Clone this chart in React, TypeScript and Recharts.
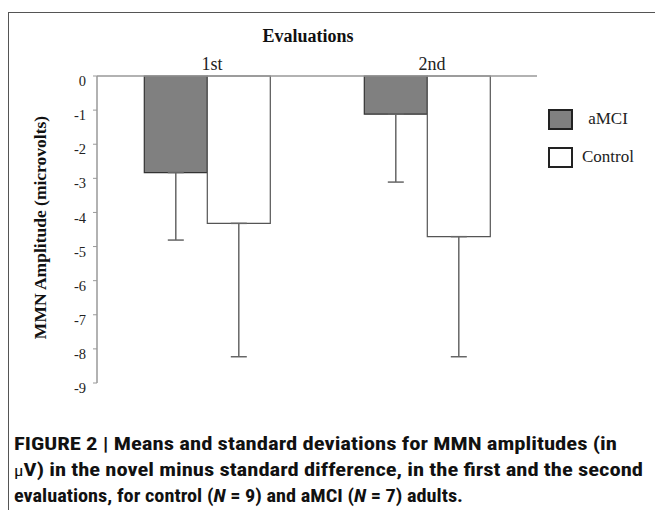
import React from 'react';
import { BarChart, Bar, XAxis, YAxis, ErrorBar, Legend } from 'recharts';

const evaluations = ['1st', '2nd'];
const amciMeans = [-2.83, -1.12];
const amciSD = [1.98, 1.99];
const controlMeans = [-4.32, -4.71];
const controlSD = [3.91, 3.52];
const yTicks = [0, -1, -2, -3, -4, -5, -6, -7, -8, -9];
const seriesNames = ['aMCI', 'Control'];
const seriesFills = ['#808080', '#ffffff'];

const data = evaluations.map((e, i) => ({
  evaluation: e,
  aMCI: amciMeans[i],
  aMCIErr: [amciSD[i], 0],
  Control: controlMeans[i],
  ControlErr: [controlSD[i], 0],
}));

const serif = '"Liberation Serif", "Times New Roman", "DejaVu Serif", serif';
const captionFont = '"Liberation Sans Narrow", "Roboto Condensed", "DejaVu Sans Condensed", "Liberation Sans", Arial, sans-serif';

const renderLegend = () => (
  <div style={{ fontFamily: serif, fontSize: 17, color: '#222' }}>
    {seriesNames.map((n, i) => (
      <div key={n} style={{ display: 'flex', alignItems: 'center', height: 38 }}>
        <div style={{ width: 21, height: 17, border: '2px solid #222', background: seriesFills[i] }} />
        <div style={{ width: 70, textAlign: 'center' }}>{n}</div>
      </div>
    ))}
  </div>
);

export default function App() {
  return (
    <div style={{ position: 'absolute', left: 0, top: 0, width: 655, height: 510, background: '#fff', overflow: 'hidden' }}>
      <div style={{ position: 'absolute', left: 8, top: 12, width: 660, height: 520, borderLeft: '1.5px solid #555', borderTop: '1.5px solid #555' }} />
      <div style={{ position: 'absolute', left: 0, top: 0 }}>
        <BarChart
          width={655}
          height={400}
          data={data}
          margin={{ top: 56, left: 57, right: 118, bottom: 17 }}
          barCategoryGap="21.5%"
          barGap={0}
        >
          <XAxis
            dataKey="evaluation"
            orientation="top"
            height={20}
            axisLine={{ stroke: '#999', strokeWidth: 1.5 }}
            tickLine={false}
            tickSize={6}
            tickMargin={0}
            tick={{ fontFamily: serif, fontSize: 18, fill: '#222', dx: 5 }}
            label={{
              content: ({ viewBox }: any) => (
                <text x={viewBox.x + viewBox.width / 2 - 9} y={viewBox.y - 14} textAnchor="middle"
                  fontFamily={serif} fontSize={18} fontWeight="bold" fill="#111">Evaluations</text>
              ),
            }}
          />
          <YAxis
            type="number"
            domain={[-9, 0]}
            ticks={yTicks}
            interval={0}
            width={40}
            axisLine={{ stroke: '#999', strokeWidth: 1.5 }}
            tickLine={{ stroke: '#999' }}
            tickSize={4}
            tickMargin={7}
            tick={{ fontFamily: serif, fontSize: 14.5, fill: '#222', dy: 5 }}
            label={{
              content: ({ viewBox }: any) => {
                const cx = viewBox.x - 17;
                const cy = viewBox.y + viewBox.height / 2 - 2;
                return (
                  <text x={cx} y={cy} textAnchor="middle" dominantBaseline="central"
                    transform={`rotate(-90, ${cx}, ${cy})`}
                    fontFamily={serif} fontSize={17.5} fontWeight="bold" fill="#111">MMN Amplitude (microvolts)</text>
                );
              },
            }}
          />
          <Legend
            layout="horizontal"
            verticalAlign="middle"
            align="center"
            content={renderLegend}
            wrapperStyle={{ position: 'absolute', left: 548, top: 100, width: 100 }}
          />
          <Bar dataKey="aMCI" fill="#808080" stroke="#333" strokeWidth={1.2} isAnimationActive={false}>
            <ErrorBar dataKey="aMCIErr" direction="y" width={8} stroke="#666" strokeWidth={1.5} />
          </Bar>
          <Bar dataKey="Control" fill="#ffffff" stroke="#555" strokeWidth={1.2} isAnimationActive={false}>
            <ErrorBar dataKey="ControlErr" direction="y" width={8} stroke="#666" strokeWidth={1.5} />
          </Bar>
        </BarChart>
      </div>
      <svg width={655} height={110} style={{ position: 'absolute', left: 0, top: 400 }}>
        <g fontFamily={captionFont} fontSize={18} fontWeight="bold" fill="#111">
          <text x={14} y={50} textLength={603} lengthAdjust="spacingAndGlyphs">
            FIGURE 2 | Means and standard deviations for MMN amplitudes (in
          </text>
          <text x={14} y={76} textLength={629} lengthAdjust="spacingAndGlyphs">
            <tspan fontWeight="normal" fontSize={15}>μ</tspan>V) in the novel minus standard difference, in the first and the second
          </text>
          <text x={14} y={102} textLength={449} lengthAdjust="spacingAndGlyphs">
            evaluations, for control (<tspan fontStyle="italic">N</tspan> = 9) and aMCI (<tspan fontStyle="italic">N</tspan> = 7) adults.
          </text>
        </g>
      </svg>
    </div>
  );
}
